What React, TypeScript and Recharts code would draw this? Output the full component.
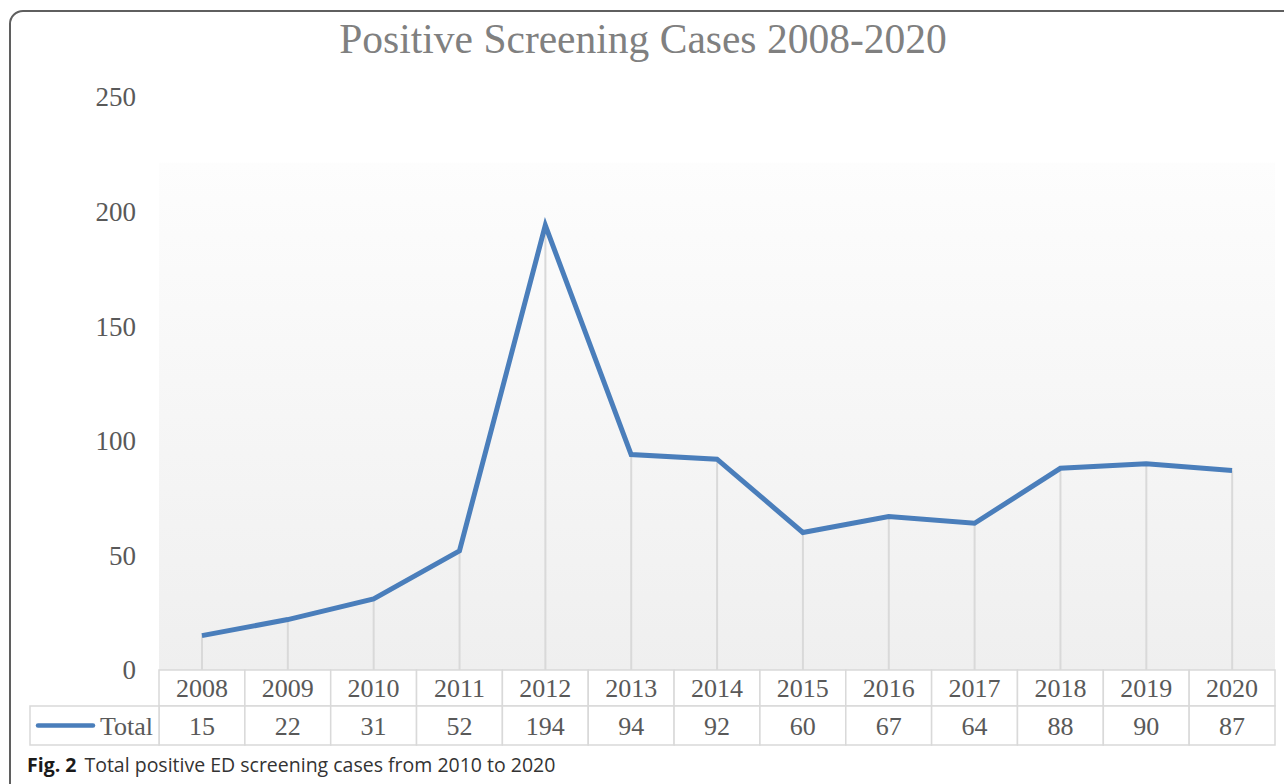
import React from 'react';
import { ComposedChart, Line, Bar, XAxis, YAxis, CartesianGrid } from 'recharts';

const years = ['2008', '2009', '2010', '2011', '2012', '2013', '2014', '2015', '2016', '2017', '2018', '2019', '2020'];
const totals = [15, 22, 31, 52, 194, 94, 92, 60, 67, 64, 88, 90, 87];
const yTicks = [0, 50, 100, 150, 200, 250];
const seriesName = 'Total';
const title = 'Positive Screening Cases 2008-2020';

const data = years.map((y, i) => ({ year: y, total: totals[i] }));

const W = 1284;
const H = 784;
const PLOT_LEFT = 159;
const PLOT_RIGHT = 1275;
const PLOT_TOP = 97;
const PLOT_BOTTOM = 670;
const COL_W = (PLOT_RIGHT - PLOT_LEFT) / years.length;
const ROW1_H = 36;
const ROW2_H = 39;
const LINE_COLOR = '#4a7ebb';
const GRID_COLOR = '#d9d9d9';
const SERIF = '"Liberation Serif", "DejaVu Serif", serif';
const TEXT_COLOR = '#595959';

const TableTick = (props: any) => {
  const { x, y, payload, index } = props;
  const left = x - COL_W / 2;
  const v = totals[index];
  return (
    <g>
      <rect x={left} y={y} width={COL_W} height={ROW1_H} fill="#fff" stroke={GRID_COLOR} strokeWidth={1.5} />
      <rect x={left} y={y + ROW1_H} width={COL_W} height={ROW2_H} fill="#fff" stroke={GRID_COLOR} strokeWidth={1.5} />
      <text x={x} y={y + ROW1_H / 2} dy="0.35em" textAnchor="middle" fontFamily={SERIF} fontSize={26} fill={TEXT_COLOR}>
        {payload.value}
      </text>
      <text x={x} y={y + ROW1_H + ROW2_H / 2} dy="0.35em" textAnchor="middle" fontFamily={SERIF} fontSize={26} fill={TEXT_COLOR}>
        {v}
      </text>
      {index === 0 && (
        <g>
          <rect x={30} y={y + ROW1_H} width={left - 30} height={ROW2_H} fill="#fff" stroke={GRID_COLOR} strokeWidth={1.5} />
          <line x1={38} x2={93} y1={y + ROW1_H + ROW2_H / 2} y2={y + ROW1_H + ROW2_H / 2} stroke={LINE_COLOR} strokeWidth={4.5} strokeLinecap="round" />
          <text x={left - 6} y={y + ROW1_H + ROW2_H / 2} dy="0.35em" textAnchor="end" fontFamily={SERIF} fontSize={26} fill={TEXT_COLOR}>
            {seriesName}
          </text>
        </g>
      )}
    </g>
  );
};

const YTick = (props: any) => {
  const { x, y, payload } = props;
  return (
    <text x={x} y={y} dy="0.35em" textAnchor="end" fontFamily={SERIF} fontSize={27} fill={TEXT_COLOR}>
      {payload.value}
    </text>
  );
};

export default function App() {
  const yAxisWidth = 60;
  return (
    <div style={{ position: 'absolute', left: 0, top: 0, width: W, height: H, overflow: 'hidden', background: '#fff' }}>
      <div
        style={{
          position: 'absolute',
          left: 9,
          top: 10,
          width: 1320,
          height: 820,
          border: '2px solid #5f5f5f',
          borderRadius: 14,
          boxSizing: 'border-box',
        }}
      />
      <div
        style={{
          position: 'absolute',
          left: 0,
          top: 15,
          width: 1286,
          textAlign: 'center',
          fontFamily: SERIF,
          fontSize: 41.5,
          lineHeight: '48px',
          color: '#808080',
        }}
      >
        {title}
      </div>
      <div style={{ position: 'absolute', left: 0, top: 0 }}>
        <ComposedChart
          width={W}
          height={H}
          data={data}
          margin={{ top: PLOT_TOP, left: PLOT_LEFT - yAxisWidth, right: W - PLOT_RIGHT, bottom: 0 }}
          barCategoryGap={0}
        >
          <defs>
            <linearGradient id="plotBg" x1="0" y1="0" x2="0" y2="1">
              <stop offset="0" stopColor="#ffffff" />
              <stop offset="0.114" stopColor="#ffffff" />
              <stop offset="0.115" stopColor="#fdfdfd" />
              <stop offset="1" stopColor="#efefef" />
            </linearGradient>
          </defs>
          <CartesianGrid horizontal={false} vertical={false} fill="url(#plotBg)" />
          <XAxis
            dataKey="year"
            axisLine={false}
            tickLine={false}
            tickSize={0}
            tickMargin={0}
            height={H - PLOT_BOTTOM}
            interval={0}
            tick={<TableTick />}
          />
          <YAxis
            domain={[0, 250]}
            ticks={yTicks}
            width={yAxisWidth}
            axisLine={false}
            tickLine={false}
            tickSize={6}
            tickMargin={17}
            tick={<YTick />}
          />
          <Bar dataKey="total" barSize={2} fill={GRID_COLOR} isAnimationActive={false} />
          <Line
            dataKey="total"
            stroke={LINE_COLOR}
            strokeWidth={5}
            dot={false}
            activeDot={false}
            isAnimationActive={false}
          />
        </ComposedChart>
      </div>
      <div
        style={{
          position: 'absolute',
          left: 27,
          top: 752,
          fontFamily: '"Open Sans", "Noto Sans", sans-serif',
          fontSize: 19.5,
          lineHeight: '26px',
          color: '#333',
          whiteSpace: 'nowrap',
        }}
      >
        <span style={{ fontWeight: 700, color: '#1a1a1a' }}>Fig. 2</span>
        <span style={{ marginLeft: 8 }}>Total positive ED screening cases from 2010 to 2020</span>
      </div>
    </div>
  );
}
